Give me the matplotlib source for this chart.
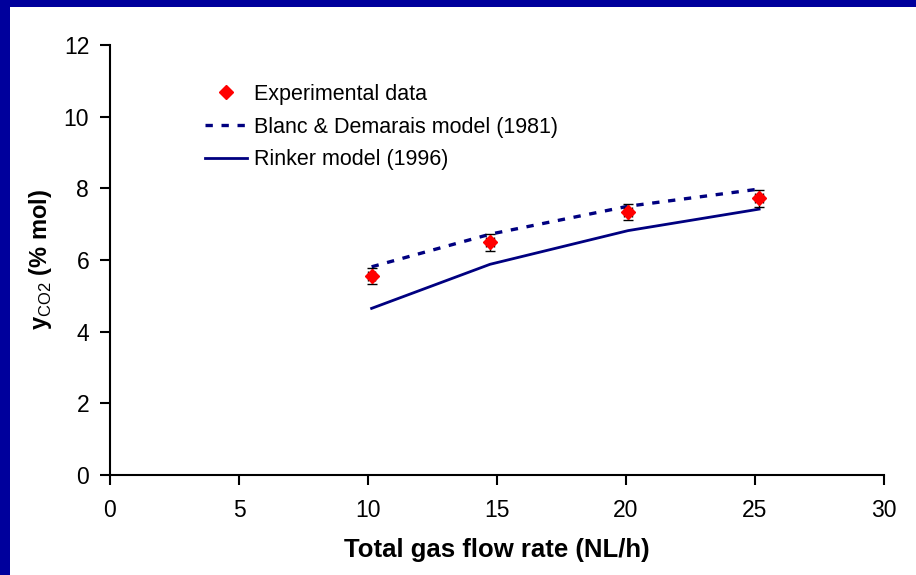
import matplotlib
matplotlib.use("Agg")
import matplotlib.pyplot as plt
from matplotlib.patches import Rectangle

plt.rcParams['font.family'] = ['Liberation Sans', 'DejaVu Sans']
plt.rcParams['mathtext.fontset'] = 'custom'
plt.rcParams['mathtext.rm'] = 'Liberation Sans'
plt.rcParams['mathtext.bf'] = 'Liberation Sans:bold'

# Data
flow_exp = [10.14, 14.73, 20.08, 25.16]
yco2_exp = [5.55, 6.49, 7.34, 7.72]
yerr_exp = [0.23, 0.23, 0.23, 0.23]
xerr_exp = [0.15, 0.15, 0.15, 0.15]

flow_model = [10.14, 14.73, 20.08, 25.16]
yco2_blanc = [5.81, 6.72, 7.50, 7.98]
yco2_rinker = [4.65, 5.88, 6.82, 7.42]

xticks = [0, 5, 10, 15, 20, 25, 30]
yticks = [0, 2, 4, 6, 8, 10, 12]

navy = '#000080'

fig = plt.figure(figsize=(9.16, 5.75), dpi=100)
ax = fig.add_axes([110/916, 1-475/575, (884-110)/916, (475-45)/575])

ax.plot(flow_model, yco2_blanc, color=navy, lw=2.4, linestyle=(0, (2.2, 2.6)),
        label='Blanc & Demarais model (1981)')
ax.plot(flow_model, yco2_rinker, color=navy, lw=2.0, label='Rinker model (1996)')
ax.errorbar(flow_exp, yco2_exp, yerr=yerr_exp, xerr=xerr_exp, fmt='none',
            ecolor='black', elinewidth=1.0, capsize=3.5, capthick=1.0, zorder=3)
ax.plot(flow_exp, yco2_exp, linestyle='none', marker='D', color='red',
        markersize=7, zorder=4, label='Experimental data')

ax.set_xlim(0, 30)
ax.set_ylim(0, 12)
ax.set_xticks(xticks)
ax.set_yticks(yticks)
for s in ['top', 'right']:
    ax.spines[s].set_visible(False)
for s in ['left', 'bottom']:
    ax.spines[s].set_linewidth(1.5)
ax.tick_params(direction='out', length=7, width=1.5, labelsize=16.5)
ax.tick_params(axis='x', pad=10)
ax.tick_params(axis='y', pad=8)

ax.set_xlabel('Total gas flow rate (NL/h)', fontsize=18.5, fontweight='bold', labelpad=12)
ax.set_ylabel(r'$\mathbf{y}_{\mathrm{CO2}}$ (% mol)', fontsize=17, fontweight='bold', labelpad=7)

handles, labels = ax.get_legend_handles_labels()
order = [2, 0, 1]
leg = ax.legend([handles[i] for i in order], [labels[i] for i in order],
                loc='upper left', bbox_to_anchor=(0.112, 0.93), frameon=False,
                fontsize=15.5, handlelength=1.95, handletextpad=0.3, labelspacing=0.55,
                borderaxespad=0)

# Blue frame (top and left bands)
fig.add_artist(Rectangle((0, 1-7/575), 1, 7/575, transform=fig.transFigure,
                         facecolor='#00009C', edgecolor='none'))
fig.add_artist(Rectangle((0, 0), 10/916, 1, transform=fig.transFigure,
                         facecolor='#00009C', edgecolor='none'))

fig.savefig('out.png', dpi=100)
